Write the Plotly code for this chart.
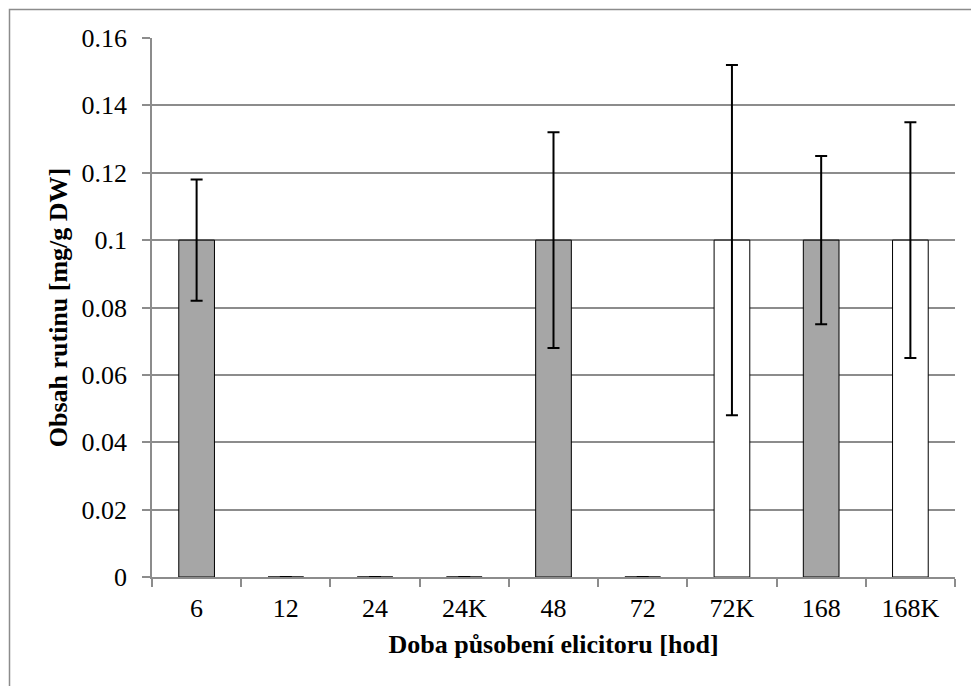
import plotly.graph_objects as go

categories = ["6", "12", "24", "24K", "48", "72", "72K", "168", "168K"]
values = [0.1, 0, 0, 0, 0.1, 0, 0.1, 0.1, 0.1]
errors = [0.018, 0, 0, 0, 0.032, 0, 0.052, 0.025, 0.035]
bar_colors = ["#a6a6a6", "#a6a6a6", "#a6a6a6", "#ffffff", "#a6a6a6",
              "#a6a6a6", "#ffffff", "#a6a6a6", "#ffffff"]
y_ticks = [0, 0.02, 0.04, 0.06, 0.08, 0.1, 0.12, 0.14, 0.16]
y_tick_labels = ["0", "0.02", "0.04", "0.06", "0.08", "0.1", "0.12", "0.14", "0.16"]

W, H = 971, 686
L, R, T, B = 152, 16, 38, 109

fig = go.Figure()
fig.add_trace(go.Bar(
    x=categories, y=values,
    marker=dict(color=bar_colors, line=dict(color="#000000", width=1)),
    width=0.4,
    error_y=dict(type="data", array=errors, visible=True,
                 color="#000000", thickness=2, width=6),
    showlegend=False,
))

pw = W - L - R
ph = H - T - B
def px_x(px):
    return (px - L) / pw
def px_y(py):
    return 1 - (py - T) / ph

fig.add_shape(type="rect", xref="paper", yref="paper",
              x0=px_x(9.5), x1=px_x(990), y0=px_y(700), y1=px_y(9.5),
              line=dict(color="#8c8c8c", width=1.5), fillcolor="rgba(0,0,0,0)",
              layer="below")

fig.update_layout(
    width=W, height=H,
    margin=dict(l=L, r=R, t=T, b=B, pad=0),
    paper_bgcolor="white", plot_bgcolor="white",
    font=dict(family="Liberation Serif", color="#000000"),
    bargap=0.6,
)
fig.update_xaxes(
    type="category",
    tickfont=dict(size=26, family="Liberation Serif"),
    showline=True, linecolor="#8c8c8c", linewidth=1.5,
    ticks="outside", tickson="boundaries", ticklen=8, tickcolor="#8c8c8c", tickwidth=1.5,
    ticklabelstandoff=7,
    title=dict(text="<b>Doba působení elicitoru [hod]</b>",
               font=dict(size=26, family="Liberation Serif"), standoff=13),
)
fig.update_yaxes(
    range=[0, 0.16],
    tickvals=y_ticks, ticktext=y_tick_labels,
    tickfont=dict(size=26, family="Liberation Serif"),
    showline=True, linecolor="#8c8c8c", linewidth=1.5,
    ticks="outside", ticklen=8, tickcolor="#8c8c8c", tickwidth=1.5,
    ticklabelstandoff=10,
    showgrid=True, gridcolor="#8c8c8c", gridwidth=1.5,
    zeroline=False,
    title=dict(text="<b>Obsah rutinu [mg/g DW]</b>",
               font=dict(size=26, family="Liberation Serif"), standoff=6),
)

fig.write_html("out.html")
